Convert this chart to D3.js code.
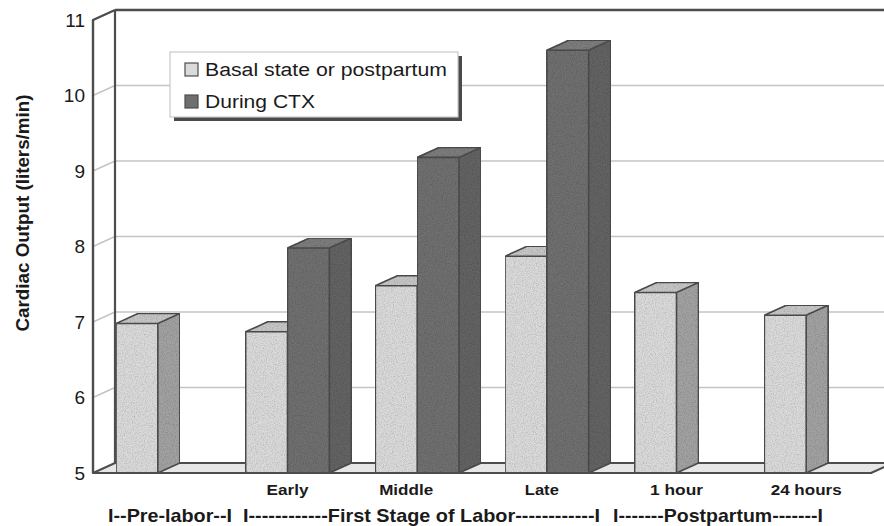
<!DOCTYPE html>
<html>
<head>
<meta charset="utf-8">
<script src="https://cdn.jsdelivr.net/npm/d3@7"></script>
<style>
  html, body { margin: 0; padding: 0; background: #fff; }
  svg { display: block; }
  text { font-family: "Liberation Sans", Arial, Helvetica, sans-serif; fill: #1a1a1a; }
</style>
</head>
<body>
<svg id="chart" width="884" height="526"></svg>
<script>
// ---- data ----
const categories = ["Pre-labor", "Early", "Middle", "Late", "1 hour", "24 hours"];
const categoryLabels = ["", "Early", "Middle", "Late", "1 hour", "24 hours"];
const seriesNames = ["Basal state or postpartum", "During CTX"];
const basalValues = [6.98, 6.87, 7.48, 7.87, 7.39, 7.09];
const ctxValues = [null, 7.98, 9.18, 10.6, null, null];
const yTicks = [5, 6, 7, 8, 9, 10, 11];
const phaseLabels = [
  "I--Pre-labor--I",
  "I------------First Stage of Labor------------I",
  "I-------Postpartum-------I"
];
const yTitle = "Cardiac Output (liters/min)";

// ---- layout ----
const W = 884, H = 526;
const front = { left: 93, right: 871, top: 20, bottom: 473 };
const depth = { dx: 22, dy: -10 };   // oblique offset from front plane to back wall
const colors = {
  basal: { front: "#dadada", side: "#a2a2a2", top: "#c6c6c6" },
  ctx:   { front: "#6f6f6f", side: "#636363", top: "#7d7d7d" },
  edge: "#4d4d4d",
  grid: "#c4c4c4",
  floor: "#e6e6e6"
};

const svg = d3.select("#chart");

// grain texture for the bar faces
const defs = svg.append("defs");
const grain = defs.append("filter").attr("id", "grain")
  .attr("x", 0).attr("y", 0).attr("width", "100%").attr("height", "100%");
grain.append("feTurbulence").attr("type", "fractalNoise")
  .attr("baseFrequency", 0.9).attr("numOctaves", 2).attr("seed", 4).attr("result", "noise");
grain.append("feColorMatrix").attr("in", "noise").attr("type", "matrix")
  .attr("values", "0 0 0 0 0  0 0 0 0 0  0 0 0 0 0  0 0 0 0.7 -0.28").attr("result", "speck");
grain.append("feComposite").attr("in", "speck").attr("in2", "SourceGraphic")
  .attr("operator", "in").attr("result", "clipped");
const gm = grain.append("feMerge");
gm.append("feMergeNode").attr("in", "SourceGraphic");
gm.append("feMergeNode").attr("in", "clipped");

// scales on the front plane
const x = d3.scaleBand().domain(categories).range([front.left, front.right]);
const xs = d3.scaleBand().domain(seriesNames).range([0, x.bandwidth()]).paddingOuter(0.55);
const y = d3.scaleLinear().domain([5, 11]).range([front.bottom, front.top]);
const bw = xs.bandwidth();

// back wall
const back = { left: front.left + depth.dx, top: front.top + depth.dy, bottom: front.bottom + depth.dy };
svg.append("rect")
  .attr("x", back.left).attr("y", back.top)
  .attr("width", W - back.left + 20).attr("height", back.bottom - back.top)
  .attr("fill", "#fff");

// gridlines on back wall and their continuation across the left wall
const gridVals = yTicks.filter(v => v > 5 && v < 11);
svg.append("g").selectAll("line.back").data(gridVals).join("line")
  .attr("x1", back.left).attr("x2", W + 20)
  .attr("y1", d => y(d) + depth.dy).attr("y2", d => y(d) + depth.dy)
  .attr("stroke", colors.grid).attr("stroke-width", 1.6);
svg.append("g").selectAll("line.side").data(gridVals).join("line")
  .attr("x1", front.left).attr("x2", back.left)
  .attr("y1", d => y(d)).attr("y2", d => y(d) + depth.dy)
  .attr("stroke", colors.grid).attr("stroke-width", 1.4);

// wall edges
svg.append("line").attr("x1", back.left).attr("x2", W + 20)
  .attr("y1", back.top).attr("y2", back.top)
  .attr("stroke", colors.edge).attr("stroke-width", 2.4);
svg.append("line").attr("x1", back.left).attr("x2", back.left)
  .attr("y1", back.top).attr("y2", back.bottom)
  .attr("stroke", colors.edge).attr("stroke-width", 2.2);
svg.append("path")
  .attr("d", `M${front.left},${front.bottom}L${front.left},${front.top}L${back.left},${back.top}`)
  .attr("fill", "none").attr("stroke", colors.edge).attr("stroke-width", 2.4)
  .attr("stroke-linejoin", "round");

// floor
svg.append("path")
  .attr("d", `M${front.left},${front.bottom}L${front.right},${front.bottom}` +
             `L${front.right + depth.dx},${back.bottom}L${back.left},${back.bottom}Z`)
  .attr("fill", colors.floor).attr("stroke", colors.edge).attr("stroke-width", 2)
  .attr("stroke-linejoin", "round");

// bars
const bars = [];
categories.forEach((c, i) => {
  if (basalValues[i] != null) bars.push({ cat: c, series: seriesNames[0], v: basalValues[i], col: colors.basal });
  if (ctxValues[i] != null) bars.push({ cat: c, series: seriesNames[1], v: ctxValues[i], col: colors.ctx });
});

const barG = svg.append("g").selectAll("g.bar").data(bars).join("g")
  .attr("class", "bar").attr("filter", "url(#grain)");

barG.each(function (d) {
  const g = d3.select(this);
  const x0 = x(d.cat) + xs(d.series), x1 = x0 + bw;
  const yT = y(d.v), yB = y(5);
  const dx = depth.dx, dy = depth.dy;
  // side face
  g.append("path")
    .attr("d", `M${x1},${yT}L${x1 + dx},${yT + dy}L${x1 + dx},${yB + dy}L${x1},${yB}Z`)
    .attr("fill", d.col.side);
  // top face
  g.append("path")
    .attr("d", `M${x0},${yT}L${x0 + dx},${yT + dy}L${x1 + dx},${yT + dy}L${x1},${yT}Z`)
    .attr("fill", d.col.top);
  // front face
  g.append("rect")
    .attr("x", x0).attr("y", yT).attr("width", bw).attr("height", yB - yT)
    .attr("fill", d.col.front);
  // outline
  g.append("path")
    .attr("d", `M${x0},${yB}L${x0},${yT}L${x0 + dx},${yT + dy}L${x1 + dx},${yT + dy}` +
               `L${x1 + dx},${yB + dy}L${x1},${yB}Z M${x0},${yT}L${x1},${yT}L${x1 + dx},${yT + dy} M${x1},${yT}L${x1},${yB}`)
    .attr("fill", "none").attr("stroke", colors.edge).attr("stroke-width", 1.6)
    .attr("stroke-linejoin", "round");
});

// redraw the floor's front edge over the bar bases
svg.append("line").attr("x1", front.left).attr("x2", front.right)
  .attr("y1", front.bottom).attr("y2", front.bottom)
  .attr("stroke", colors.edge).attr("stroke-width", 2.2);

// y axis tick labels
const yAxis = d3.axisLeft(y).tickValues(yTicks).tickSize(0).tickPadding(8).tickFormat(d3.format("d"));
const yG = svg.append("g").attr("transform", `translate(${front.left},0)`).call(yAxis);
yG.select(".domain").remove();
yG.selectAll("text")
  .style("font-family", '"Liberation Sans", Arial, sans-serif')
  .style("font-size", "19px").attr("fill", "#1a1a1a");

// y axis title
svg.append("text")
  .attr("transform", "translate(29,213) rotate(-90)")
  .attr("text-anchor", "middle")
  .attr("font-size", 18).attr("font-weight", "bold")
  .attr("textLength", 237).attr("lengthAdjust", "spacingAndGlyphs")
  .text(yTitle);

// category labels under the groups
const labelNudge = { "Middle": -11, "Late": -5 };
const labelWidth = { "Early": 42, "Middle": 54, "Late": 34, "1 hour": 53, "24 hours": 71 };
svg.append("g").selectAll("text").data(categories.filter((c, i) => categoryLabels[i] !== "")).join("text")
  .attr("x", d => x(d) + x.bandwidth() / 2 + (labelNudge[d] || 0))
  .attr("y", 495)
  .attr("text-anchor", "middle")
  .attr("font-size", 15.5).attr("font-weight", "bold")
  .attr("textLength", d => labelWidth[d]).attr("lengthAdjust", "spacingAndGlyphs")
  .text(d => categoryLabels[categories.indexOf(d)]);

// phase labels along the bottom
const phaseLayout = [
  { cx: 170, w: 124 },
  { cx: 421.5, w: 357 },
  { cx: 718, w: 210 }
];
svg.append("g").selectAll("text").data(phaseLabels).join("text")
  .attr("x", (d, i) => phaseLayout[i].cx)
  .attr("y", 522)
  .attr("text-anchor", "middle")
  .attr("font-size", 19).attr("font-weight", "bold")
  .attr("textLength", (d, i) => phaseLayout[i].w).attr("lengthAdjust", "spacingAndGlyphs")
  .text(d => d);

// legend
const lg = svg.append("g").attr("transform", "translate(170,52)");
lg.append("rect").attr("x", 4).attr("y", 4).attr("width", 288).attr("height", 65).attr("fill", "#4a4a4a");
lg.append("rect").attr("x", 0).attr("y", 0).attr("width", 288).attr("height", 65)
  .attr("fill", "#fff").attr("stroke", "#c8c8c8").attr("stroke-width", 1.2);
const legendItems = [
  { name: seriesNames[0], col: colors.basal.front, w: 242 },
  { name: seriesNames[1], col: colors.ctx.front, w: 110 }
];
const li = lg.selectAll("g.item").data(legendItems).join("g")
  .attr("transform", (d, i) => `translate(0,${11 + i * 32})`);
li.append("rect").attr("x", 15).attr("y", 0).attr("width", 13).attr("height", 13)
  .attr("fill", d => d.col).attr("stroke", colors.edge).attr("stroke-width", 1.2);
li.append("text").attr("x", 35).attr("y", 12.5)
  .attr("font-size", 18)
  .attr("textLength", d => d.w).attr("lengthAdjust", "spacingAndGlyphs")
  .text(d => d.name);
</script>
</body>
</html>
